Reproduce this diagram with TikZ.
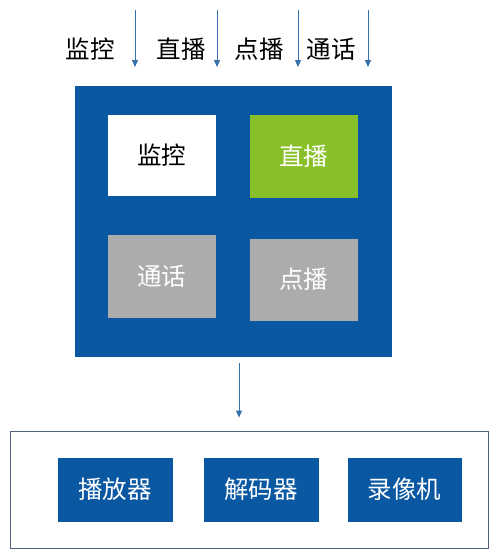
\documentclass[tikz,border=0pt]{standalone}
\usepackage{fontspec}
\setmainfont{Noto Sans CJK SC}
\usetikzlibrary{arrows.meta}
\definecolor{bgblue}{RGB}{11,88,162}
\definecolor{arrblue}{RGB}{52,112,172}
\definecolor{cellgreen}{RGB}{137,192,42}
\definecolor{cellgray}{RGB}{172,172,172}
\definecolor{framegray}{RGB}{80,96,125}

\begin{document}
\begin{tikzpicture}[x=1pt,y=-1pt,
    cell/.style={draw=bgblue, line width=0.6pt, inner sep=0pt, font=\fontsize{24.5}{28}\selectfont},
    toplbl/.style={inner sep=0pt, font=\fontsize{24.5}{28}\selectfont},
    flow/.style={draw=arrblue, line width=0.9pt, -{Triangle[length=7pt,width=6pt]}}]
    \useasboundingbox (0,0) rectangle (500,560);

    % Top labels:
    \node [toplbl] (lbljk) at (90,49)  {监控};
    \node [toplbl] (lblzb) at (181,49) {直播};
    \node [toplbl] (lbldb) at (259,49) {点播};
    \node [toplbl] (lblth) at (331,49) {通话};

    % Incoming streams:
    \foreach \n/\xx in {1/135,2/217,3/298,4/368}{%
        \coordinate (in\n) at (\xx,10);
        \coordinate (out\n) at (\xx,67);
        \draw [flow] (in\n) -- (out\n);
    }

    % Server block with the four services
    \node [fill=bgblue, minimum width=317, minimum height=271, inner sep=0pt] (server) at (233.5,221.5) {};
    \node [cell, fill=white, minimum width=109, minimum height=82] (jk) at (161.5,155) {监控};
    \node [cell, fill=cellgreen, text=white, minimum width=109, minimum height=84] (zb) at (303.5,156) {直播};
    \node [cell, fill=cellgray, text=white, minimum width=109, minimum height=84] (th) at (161.5,276) {通话};
    \node [cell, fill=cellgray, text=white, minimum width=109, minimum height=83] (db) at (303.5,279.5) {点播};

    % Client frame
    \node [draw=framegray, line width=0.9pt, minimum width=478, minimum height=117, inner sep=0pt] (client) at (249,489.5) {};
    \node [cell, fill=bgblue, text=white, minimum width=114, minimum height=63] (bfq) at (115,489.5) {播放器};
    \node [cell, fill=bgblue, text=white, minimum width=114, minimum height=63] (jmq) at (261,489.5) {解码器};
    \node [cell, fill=bgblue, text=white, minimum width=113, minimum height=63] (lxj) at (404.5,489.5) {录像机};

    % Output stream
    \coordinate (down) at (239,363);
    \draw [flow, shorten >=13pt] (down) -- (down |- client.north);
\end{tikzpicture}
\end{document}
